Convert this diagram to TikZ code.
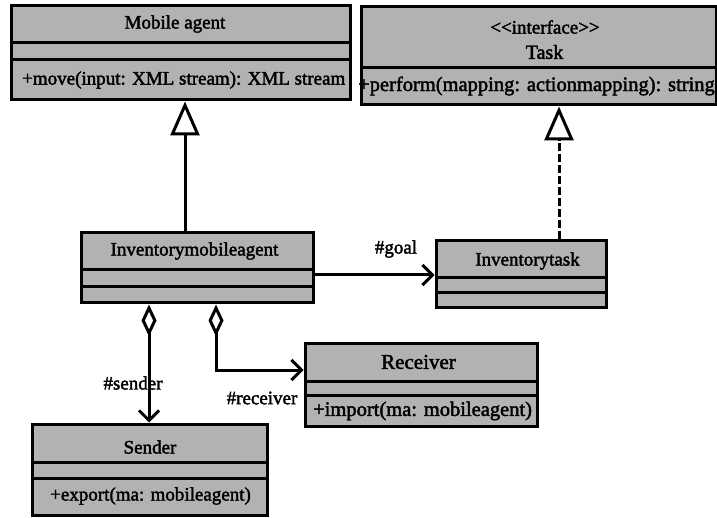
\documentclass[tikz,border=0pt]{standalone}
\usepackage{fontspec}
\setmainfont{Liberation Serif}
\newfontfamily\umlfont{Liberation Serif}[FakeBold=2]
\usetikzlibrary{arrows.meta}
\definecolor{boxgray}{RGB}{178,178,178}
\tikzset{
  classbox/.style={draw=black, fill=boxgray, line width=3pt, rectangle, inner sep=0pt},
  sepline/.style={line width=3pt},
  label text/.style={font=\umlfont\fontsize{19}{21}\selectfont, inner sep=0pt},
  conn/.style={line width=3pt},
  inherit/.style={conn, -{Triangle[open, length=34pt, width=29pt, line width=3pt, fill=white]}},
  assoc/.style={conn, -{Straight Barb[length=10pt, width=20pt, line width=3pt]}},
  aggr/.style={conn, {Diamond[open, length=32pt, width=15pt, line width=3pt, fill=white]}-{Straight Barb[length=10pt, width=20pt, line width=3pt]}},
}
\begin{document}
\begin{tikzpicture}[x=1pt, y=-1pt]
\useasboundingbox (0,0) rectangle (717,518);

% Mobile agent
\node[classbox, minimum width=339pt, minimum height=94pt] (ma) at (180.5,53) {};
\draw[sepline] (11,43) -- (350,43) (11,60) -- (350,60);
\node[label text] (maname) at (175,24) {Mobile agent};
\node[label text, anchor=west] (maop) at (22,80) {+move(input: XML stream): XML stream};

% Task interface
\node[classbox, minimum width=355pt, minimum height=98pt] (task) at (538.5,56) {};
\draw[sepline] (361,68) -- (716,68);
\node[label text] (taskst) at (545,27) {<\kern0pt<interface>\kern0pt>};
\node[label text, font=\umlfont\fontsize{20}{22}\selectfont] (taskname) at (544.5,52) {Task};
\node[label text, anchor=west, font=\umlfont\fontsize{20.5}{22}\selectfont] (taskop) at (358,86) {+perform(mapping: actionmapping): string};

% Inventorymobileagent
\node[classbox, minimum width=232pt, minimum height=70pt] (ima) at (197,268) {};
\draw[sepline] (81,270) -- (313,270) (81,287) -- (313,287);
\node[label text] (imaname) at (194.5,251) {Inventorymobileagent};

% Inventorytask
\node[classbox, minimum width=170pt, minimum height=67pt] (it) at (521,274.5) {};
\draw[sepline] (436,278) -- (606,278) (436,293) -- (606,293);
\node[label text] (itname) at (527.5,261) {Inventorytask};

% Receiver
\node[classbox, minimum width=232pt, minimum height=83pt] (rc) at (421,384.5) {};
\draw[sepline] (305,381) -- (537,381) (305,395) -- (537,395);
\node[label text, font=\umlfont\fontsize{21}{23}\selectfont] (rcname) at (418.5,362) {Receiver};
\node[label text, anchor=west, font=\umlfont\fontsize{20.5}{22}\selectfont] (rcop) at (313,411) {+import(ma: mobileagent)};

% Sender
\node[classbox, minimum width=235pt, minimum height=91pt] (sd) at (149.5,469.5) {};
\draw[sepline] (32,462) -- (267,462) (32,478) -- (267,478);
\node[label text] (sdname) at (150,447) {Sender};
\node[label text, anchor=west] (sdop) at (50,496) {+export(ma: mobileagent)};

% Generalization and realization
\draw[inherit] (ima.north -| 185,0) -- (ma.south -| 185,0);
\draw[conn, dashed, dash pattern=on 8pt off 3pt] (it.north -| 559,0) -- (559,141);
\draw[inherit] (559,141) -- (task.south -| 559,0);

% Associations
\draw[assoc] (ima.east |- 0,275) -- (it.west |- 0,275);
\node[label text] (goal) at (396,249) {\#goal};
\draw[aggr] (ima.south -| 149,0) -- (sd.north -| 149,0);
\draw[aggr] (ima.south -| 216,0) |- (rc.west |- 0,370);

\node[label text] (sndlbl) at (133,383) {\#sender};
\node[label text] (rcvlbl) at (262,398) {\#receiver};
\end{tikzpicture}
\end{document}
